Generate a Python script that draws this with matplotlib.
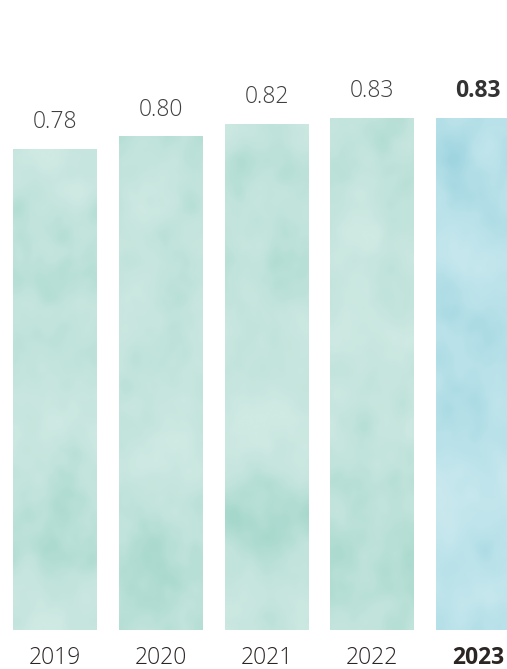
import numpy as np
import matplotlib
matplotlib.use("Agg")
import matplotlib.pyplot as plt
from matplotlib.colors import LinearSegmentedColormap

years = ["2019", "2020", "2021", "2022", "2023"]
values = [0.78, 0.80, 0.82, 0.83, 0.83]
labels = ["0.78", "0.80", "0.82", "0.83", "0.83"]

plt.rcParams['font.family'] = ['Open Sans', 'DejaVu Sans']

fig = plt.figure(figsize=(5.07, 6.69), dpi=100)
ax = fig.add_axes([0, 0, 1, 1])
ax.set_xlim(-0.520, 4.274)
ax.set_ylim(-0.0632, 1.021)
ax.axis('off')

x = np.arange(len(years))
bars = ax.bar(x, values, width=0.794, facecolor='none', edgecolor='none')


def smooth_noise(rng, h, w, sigma):
    # gaussian-blurred noise via FFT, used only as a cloud texture
    n = rng.standard_normal((h, w))
    fy = np.fft.fftfreq(h)[:, None]
    fx = np.fft.fftfreq(w)[None, :]
    g = np.exp(-2 * (np.pi * sigma) ** 2 * (fx ** 2 + fy ** 2))
    out = np.real(np.fft.ifft2(np.fft.fft2(n) * g))
    return (out - out.mean()) / out.std()


rng = np.random.default_rng(7)
teal = LinearSegmentedColormap.from_list('teal', ['#cfe9e3', '#c0e3db', '#a5d7cb'])
blue = LinearSegmentedColormap.from_list('blue', ['#c8e8ee', '#b8e1e9', '#9dd4df'])

for i, patch in enumerate(bars):
    tex = (0.6 * smooth_noise(rng, 240, 50, 14)
           + 0.3 * smooth_noise(rng, 240, 50, 5)
           + 0.1 * smooth_noise(rng, 240, 50, 2))
    tex = np.clip(tex * 0.28 + 0.42, 0, 1)
    cmap = blue if i == len(bars) - 1 else teal
    x0 = patch.get_x()
    im = ax.imshow(tex, cmap=cmap, vmin=0, vmax=1, aspect='auto',
                   extent=[x0, x0 + patch.get_width(), 0, patch.get_height()],
                   interpolation='bicubic', zorder=1)
    im.set_clip_path(patch)

for i, (v, lab) in enumerate(zip(values, labels)):
    last = i == len(values) - 1
    ax.text(i, v + 0.043, lab, ha='center', va='center', fontsize=16.5,
            color='#333333' if last else '#3f3f3f',
            fontweight='bold' if last else 'light')
    ax.text(i, -0.046, years[i], ha='center', va='center', fontsize=16.5,
            color='#2b2523', fontweight='bold' if last else 'light')

fig.savefig("out.png", dpi=100)
